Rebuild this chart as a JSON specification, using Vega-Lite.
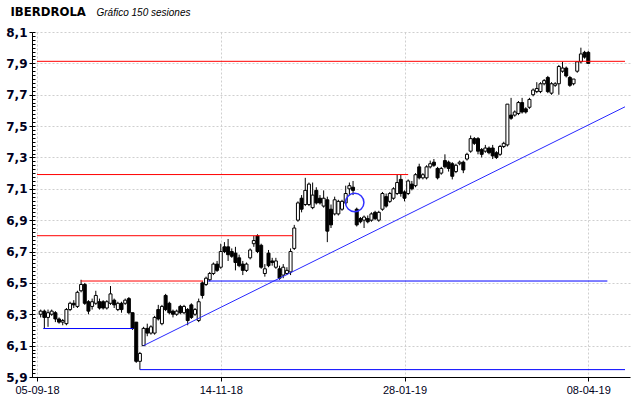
{
  "$schema": "https://vega.github.io/schema/vega-lite/v6.json",
  "width": 598,
  "height": 345,
  "autosize": {"type": "none"},
  "padding": {"left": 32, "top": 32, "right": 10, "bottom": 21},
  "background": "white",
  "config": {"view": {"stroke": null}},
  "resolve": {"axis": {"y": "independent"}},
  "datasets": {
    "candles": [
      {"i":1,"o":6.30,"h":6.33,"l":6.28,"c":6.32},
      {"i":2,"o":6.32,"h":6.33,"l":6.21,"c":6.28},
      {"i":3,"o":6.28,"h":6.33,"l":6.22,"c":6.31},
      {"i":4,"o":6.30,"h":6.33,"l":6.29,"c":6.32},
      {"i":5,"o":6.31,"h":6.32,"l":6.25,"c":6.27},
      {"i":6,"o":6.27,"h":6.28,"l":6.24,"c":6.25},
      {"i":7,"o":6.25,"h":6.27,"l":6.23,"c":6.26},
      {"i":8,"o":6.24,"h":6.34,"l":6.23,"c":6.33},
      {"i":9,"o":6.33,"h":6.38,"l":6.32,"c":6.37},
      {"i":10,"o":6.37,"h":6.39,"l":6.34,"c":6.36},
      {"i":11,"o":6.35,"h":6.45,"l":6.34,"c":6.44},
      {"i":12,"o":6.45,"h":6.52,"l":6.44,"c":6.49},
      {"i":13,"o":6.49,"h":6.50,"l":6.36,"c":6.37},
      {"i":14,"o":6.38,"h":6.39,"l":6.30,"c":6.32},
      {"i":15,"o":6.35,"h":6.40,"l":6.33,"c":6.38},
      {"i":16,"o":6.37,"h":6.45,"l":6.36,"c":6.42},
      {"i":17,"o":6.38,"h":6.40,"l":6.33,"c":6.34},
      {"i":18,"o":6.38,"h":6.39,"l":6.33,"c":6.34},
      {"i":19,"o":6.34,"h":6.39,"l":6.33,"c":6.38},
      {"i":20,"o":6.37,"h":6.48,"l":6.36,"c":6.43},
      {"i":21,"o":6.39,"h":6.40,"l":6.34,"c":6.36},
      {"i":22,"o":6.33,"h":6.38,"l":6.32,"c":6.37},
      {"i":23,"o":6.37,"h":6.38,"l":6.31,"c":6.33},
      {"i":24,"o":6.37,"h":6.40,"l":6.36,"c":6.39},
      {"i":25,"o":6.40,"h":6.41,"l":6.30,"c":6.31},
      {"i":26,"o":6.31,"h":6.31,"l":6.20,"c":6.21},
      {"i":27,"o":6.25,"h":6.25,"l":5.99,"c":6.00},
      {"i":28,"o":6.00,"h":6.06,"l":5.947,"c":6.05},
      {"i":29,"o":6.10,"h":6.22,"l":6.10,"c":6.21},
      {"i":30,"o":6.21,"h":6.24,"l":6.16,"c":6.18},
      {"i":31,"o":6.18,"h":6.23,"l":6.17,"c":6.22},
      {"i":32,"o":6.18,"h":6.29,"l":6.17,"c":6.28},
      {"i":33,"o":6.33,"h":6.36,"l":6.26,"c":6.27},
      {"i":34,"o":6.24,"h":6.36,"l":6.23,"c":6.35},
      {"i":35,"o":6.42,"h":6.43,"l":6.32,"c":6.33},
      {"i":36,"o":6.37,"h":6.38,"l":6.30,"c":6.31},
      {"i":37,"o":6.32,"h":6.33,"l":6.28,"c":6.30},
      {"i":38,"o":6.30,"h":6.33,"l":6.29,"c":6.32},
      {"i":39,"o":6.35,"h":6.36,"l":6.30,"c":6.31},
      {"i":40,"o":6.31,"h":6.36,"l":6.30,"c":6.35},
      {"i":41,"o":6.33,"h":6.34,"l":6.23,"c":6.26},
      {"i":42,"o":6.36,"h":6.37,"l":6.27,"c":6.28},
      {"i":43,"o":6.30,"h":6.34,"l":6.29,"c":6.33},
      {"i":44,"o":6.26,"h":6.40,"l":6.25,"c":6.38},
      {"i":45,"o":6.50,"h":6.51,"l":6.40,"c":6.42},
      {"i":46,"o":6.49,"h":6.54,"l":6.48,"c":6.53},
      {"i":47,"o":6.52,"h":6.57,"l":6.51,"c":6.56},
      {"i":48,"o":6.56,"h":6.63,"l":6.55,"c":6.62},
      {"i":49,"o":6.62,"h":6.64,"l":6.57,"c":6.58},
      {"i":50,"o":6.60,"h":6.75,"l":6.59,"c":6.70},
      {"i":51,"o":6.73,"h":6.76,"l":6.69,"c":6.70},
      {"i":52,"o":6.73,"h":6.78,"l":6.64,"c":6.68},
      {"i":53,"o":6.70,"h":6.72,"l":6.66,"c":6.67},
      {"i":54,"o":6.69,"h":6.73,"l":6.58,"c":6.63},
      {"i":55,"o":6.66,"h":6.68,"l":6.60,"c":6.61},
      {"i":56,"o":6.62,"h":6.64,"l":6.55,"c":6.58},
      {"i":57,"o":6.58,"h":6.63,"l":6.57,"c":6.62},
      {"i":58,"o":6.66,"h":6.72,"l":6.65,"c":6.71},
      {"i":59,"o":6.75,"h":6.80,"l":6.73,"c":6.77},
      {"i":60,"o":6.80,"h":6.81,"l":6.69,"c":6.70},
      {"i":61,"o":6.74,"h":6.75,"l":6.59,"c":6.60},
      {"i":62,"o":6.56,"h":6.62,"l":6.54,"c":6.59},
      {"i":63,"o":6.69,"h":6.71,"l":6.60,"c":6.61},
      {"i":64,"o":6.64,"h":6.66,"l":6.61,"c":6.63},
      {"i":65,"o":6.60,"h":6.66,"l":6.59,"c":6.64},
      {"i":66,"o":6.59,"h":6.61,"l":6.52,"c":6.53},
      {"i":67,"o":6.55,"h":6.62,"l":6.53,"c":6.60},
      {"i":68,"o":6.56,"h":6.60,"l":6.55,"c":6.58},
      {"i":69,"o":6.57,"h":6.72,"l":6.55,"c":6.70},
      {"i":70,"o":6.72,"h":6.87,"l":6.71,"c":6.85},
      {"i":71,"o":6.90,"h":7.02,"l":6.89,"c":7.01},
      {"i":72,"o":7.04,"h":7.06,"l":6.95,"c":6.97},
      {"i":73,"o":7.00,"h":7.17,"l":6.99,"c":7.09},
      {"i":74,"o":7.00,"h":7.14,"l":6.99,"c":7.13},
      {"i":75,"o":6.98,"h":7.14,"l":6.97,"c":7.06},
      {"i":76,"o":7.09,"h":7.11,"l":7.00,"c":7.01},
      {"i":77,"o":7.04,"h":7.06,"l":7.00,"c":7.01},
      {"i":78,"o":6.99,"h":7.09,"l":6.98,"c":7.04},
      {"i":79,"o":7.03,"h":7.05,"l":6.76,"c":6.83},
      {"i":80,"o":6.97,"h":7.00,"l":6.85,"c":6.87},
      {"i":81,"o":6.94,"h":7.05,"l":6.93,"c":7.03},
      {"i":82,"o":6.94,"h":7.03,"l":6.93,"c":7.02},
      {"i":83,"o":6.97,"h":7.03,"l":6.96,"c":7.02},
      {"i":84,"o":7.01,"h":7.12,"l":7.00,"c":7.07},
      {"i":85,"o":7.10,"h":7.14,"l":7.06,"c":7.12},
      {"i":86,"o":7.11,"h":7.15,"l":7.06,"c":7.09},
      {"i":87,"o":6.97,"h":6.98,"l":6.86,"c":6.87},
      {"i":88,"o":6.91,"h":6.92,"l":6.88,"c":6.89},
      {"i":89,"o":6.90,"h":6.93,"l":6.85,"c":6.92},
      {"i":90,"o":6.91,"h":6.93,"l":6.88,"c":6.89},
      {"i":91,"o":6.90,"h":6.95,"l":6.89,"c":6.94},
      {"i":92,"o":6.95,"h":6.96,"l":6.90,"c":6.91},
      {"i":93,"o":6.90,"h":6.96,"l":6.89,"c":6.95},
      {"i":94,"o":6.97,"h":7.08,"l":6.96,"c":7.07},
      {"i":95,"o":7.05,"h":7.07,"l":6.98,"c":6.99},
      {"i":96,"o":7.02,"h":7.08,"l":7.01,"c":7.07},
      {"i":97,"o":7.04,"h":7.11,"l":7.03,"c":7.10},
      {"i":98,"o":7.07,"h":7.19,"l":7.06,"c":7.14},
      {"i":99,"o":7.16,"h":7.19,"l":7.05,"c":7.07},
      {"i":100,"o":7.08,"h":7.09,"l":7.02,"c":7.04},
      {"i":101,"o":7.07,"h":7.16,"l":7.06,"c":7.15},
      {"i":102,"o":7.13,"h":7.15,"l":7.09,"c":7.10},
      {"i":103,"o":7.12,"h":7.20,"l":7.11,"c":7.19},
      {"i":104,"o":7.24,"h":7.26,"l":7.16,"c":7.17},
      {"i":105,"o":7.17,"h":7.20,"l":7.16,"c":7.19},
      {"i":106,"o":7.17,"h":7.25,"l":7.16,"c":7.24},
      {"i":107,"o":7.24,"h":7.28,"l":7.23,"c":7.26},
      {"i":108,"o":7.27,"h":7.29,"l":7.24,"c":7.25},
      {"i":109,"o":7.23,"h":7.24,"l":7.16,"c":7.17},
      {"i":110,"o":7.20,"h":7.24,"l":7.19,"c":7.23},
      {"i":111,"o":7.28,"h":7.32,"l":7.23,"c":7.24},
      {"i":112,"o":7.27,"h":7.28,"l":7.21,"c":7.23},
      {"i":113,"o":7.26,"h":7.27,"l":7.16,"c":7.18},
      {"i":114,"o":7.21,"h":7.26,"l":7.20,"c":7.25},
      {"i":115,"o":7.26,"h":7.28,"l":7.25,"c":7.27},
      {"i":116,"o":7.27,"h":7.28,"l":7.20,"c":7.22},
      {"i":117,"o":7.29,"h":7.33,"l":7.28,"c":7.32},
      {"i":118,"o":7.34,"h":7.44,"l":7.33,"c":7.42},
      {"i":119,"o":7.42,"h":7.43,"l":7.38,"c":7.39},
      {"i":120,"o":7.42,"h":7.43,"l":7.32,"c":7.34},
      {"i":121,"o":7.35,"h":7.36,"l":7.30,"c":7.32},
      {"i":122,"o":7.34,"h":7.38,"l":7.33,"c":7.36},
      {"i":123,"o":7.36,"h":7.37,"l":7.32,"c":7.33},
      {"i":124,"o":7.36,"h":7.38,"l":7.29,"c":7.31},
      {"i":125,"o":7.33,"h":7.34,"l":7.29,"c":7.30},
      {"i":126,"o":7.32,"h":7.38,"l":7.31,"c":7.37},
      {"i":127,"o":7.37,"h":7.40,"l":7.36,"c":7.39},
      {"i":128,"o":7.38,"h":7.64,"l":7.37,"c":7.64},
      {"i":129,"o":7.57,"h":7.68,"l":7.54,"c":7.55},
      {"i":130,"o":7.57,"h":7.60,"l":7.56,"c":7.59},
      {"i":131,"o":7.58,"h":7.66,"l":7.57,"c":7.65},
      {"i":132,"o":7.65,"h":7.68,"l":7.58,"c":7.59},
      {"i":133,"o":7.61,"h":7.62,"l":7.58,"c":7.59},
      {"i":134,"o":7.62,"h":7.68,"l":7.61,"c":7.67},
      {"i":135,"o":7.70,"h":7.74,"l":7.69,"c":7.73},
      {"i":136,"o":7.72,"h":7.78,"l":7.71,"c":7.74},
      {"i":137,"o":7.72,"h":7.78,"l":7.71,"c":7.77},
      {"i":138,"o":7.77,"h":7.80,"l":7.76,"c":7.79},
      {"i":139,"o":7.81,"h":7.82,"l":7.71,"c":7.72},
      {"i":140,"o":7.71,"h":7.78,"l":7.70,"c":7.77},
      {"i":141,"o":7.76,"h":7.78,"l":7.75,"c":7.77},
      {"i":142,"o":7.77,"h":7.89,"l":7.70,"c":7.88},
      {"i":143,"o":7.85,"h":7.91,"l":7.84,"c":7.87},
      {"i":144,"o":7.87,"h":7.88,"l":7.81,"c":7.82},
      {"i":145,"o":7.81,"h":7.82,"l":7.75,"c":7.76},
      {"i":146,"o":7.77,"h":7.80,"l":7.76,"c":7.80},
      {"i":147,"o":7.85,"h":7.91,"l":7.84,"c":7.91},
      {"i":148,"o":7.91,"h":8.00,"l":7.90,"c":7.96},
      {"i":149,"o":7.97,"h":7.98,"l":7.93,"c":7.94},
      {"i":150,"o":7.97,"h":7.98,"l":7.90,"c":7.90}
    ],
    "lines": [
      {"kind":"resistencia","x":0,"x2":160,"y":7.913,"y2":7.913},
      {"kind":"resistencia","x":0,"x2":101,"y":7.191,"y2":7.191},
      {"kind":"resistencia","x":0,"x2":69.6,"y":6.801,"y2":6.801},
      {"kind":"resistencia","x":11.9,"x2":45.2,"y":6.512,"y2":6.512},
      {"kind":"soporte","x":46.5,"x2":155.2,"y":6.512,"y2":6.512},
      {"kind":"soporte","x":1.7,"x2":26.2,"y":6.209,"y2":6.209},
      {"kind":"soporte","x":28,"x2":160,"y":5.947,"y2":5.947},
      {"kind":"tendencia","x":29,"x2":160,"y":6.10,"y2":7.623}
    ],
    "marker": [
      {"i":86.45,"p":7.013}
    ]
  },
  "layer": [
    {
      "data": {"name": "candles"},
      "mark": {"type": "rule", "color": "#000000", "strokeWidth": 1},
      "encoding": {
        "x": {
          "field": "i", "type": "quantitative",
          "scale": {"domain": [0, 160], "nice": false, "zero": false},
          "axis": {
            "values": [0, 50, 100, 150],
            "labelExpr": "datum.value == 0 ? '05-09-18' : datum.value == 50 ? '14-11-18' : datum.value == 100 ? '28-01-19' : '08-04-19'",
            "grid": true,
            "gridColor": "#cfcfcf",
            "gridDash": [2, 2],
            "gridWidth": 1,
            "domainColor": "#000000",
            "domainWidth": 1,
            "tickColor": "#000000",
            "tickSize": 4,
            "labelFont": "Liberation Sans",
            "labelFontSize": 11,
            "labelColor": "#000020",
            "labelPadding": 3,
            "labelFlush": false,
            "labelOverlap": false,
            "title": "Gráfico 150 sesiones",
            "titleAngle": 0,
            "titleAlign": "left",
            "titleBaseline": "alphabetic",
            "titleX": 64,
            "titleY": -362,
            "titleFont": "Liberation Sans",
            "titleFontSize": 10,
            "titleFontStyle": "italic",
            "titleFontWeight": "normal",
            "titleColor": "#000000"
          }
        },
        "y": {
          "field": "l", "type": "quantitative",
          "scale": {"domain": [5.9, 8.1], "nice": false, "zero": false},
          "axis": {
            "orient": "left",
            "values": [5.9, 6.1, 6.3, 6.5, 6.7, 6.9, 7.1, 7.3, 7.5, 7.7, 7.9, 8.1],
            "labelExpr": "replace(format(datum.value, '.1f'), '.', ',')",
            "grid": true,
            "gridColor": "#cfcfcf",
            "gridDash": [2, 2],
            "tickSize": 3,
            "tickColor": "#000000",
            "domainColor": "#000000",
            "labelFont": "DejaVu Sans",
            "labelFontSize": 12,
            "labelFontWeight": "bold",
            "labelColor": "#000020",
            "labelPadding": 2,
            "labelOverlap": false,
            "labelFlush": false,
            "title": "IBERDROLA",
            "titleAngle": 0,
            "titleAlign": "left",
            "titleBaseline": "alphabetic",
            "titleX": -22,
            "titleY": -17,
            "titleFont": "DejaVu Sans",
            "titleFontSize": 11.7,
            "titleFontWeight": "bold",
            "titleColor": "#000000"
          }
        },
        "y2": {"field": "h"}
      }
    },
    {
      "data": {"name": "candles"},
      "mark": {"type": "bar", "size": 3, "stroke": "#000000", "strokeWidth": 1},
      "encoding": {
        "x": {"field": "i", "type": "quantitative"},
        "y": {
          "field": "o", "type": "quantitative",
          "axis": {
            "orient": "left",
            "values": [5.9,5.925,5.95,5.975,6.0,6.025,6.05,6.075,6.1,6.125,6.15,6.175,6.2,6.225,6.25,6.275,6.3,6.325,6.35,6.375,6.4,6.425,6.45,6.475,6.5,6.525,6.55,6.575,6.6,6.625,6.65,6.675,6.7,6.725,6.75,6.775,6.8,6.825,6.85,6.875,6.9,6.925,6.95,6.975,7.0,7.025,7.05,7.075,7.1,7.125,7.15,7.175,7.2,7.225,7.25,7.275,7.3,7.325,7.35,7.375,7.4,7.425,7.45,7.475,7.5,7.525,7.55,7.575,7.6,7.625,7.65,7.675,7.7,7.725,7.75,7.775,7.8,7.825,7.85,7.875,7.9,7.925,7.95,7.975,8.0,8.025,8.05,8.075,8.1],
            "labels": false,
            "grid": false,
            "domain": false,
            "ticks": true,
            "tickSize": -3,
            "tickColor": "#000000",
            "title": null
          }
        },
        "y2": {"field": "c"},
        "fill": {"condition": {"test": "datum.c >= datum.o", "value": "#ffffff"}, "value": "#000000"}
      }
    },
    {
      "data": {"name": "lines"},
      "mark": {"type": "rule"},
      "encoding": {
        "x": {"field": "x", "type": "quantitative"},
        "x2": {"field": "x2"},
        "y": {"field": "y", "type": "quantitative", "axis": null},
        "y2": {"field": "y2"},
        "color": {"field": "kind", "type": "nominal", "legend": null,
          "scale": {"domain": ["resistencia", "soporte", "tendencia"], "range": ["#ff0000", "#0000ff", "#2828ff"]}},
        "strokeWidth": {"field": "kind", "type": "nominal", "legend": null,
          "scale": {"domain": ["resistencia", "soporte", "tendencia"], "range": [1, 1, 1.4]}}
      }
    },
    {
      "data": {"name": "marker"},
      "mark": {"type": "point", "shape": "circle", "size": 340, "filled": false, "stroke": "#3030ff", "strokeWidth": 1.5, "opacity": 1},
      "encoding": {
        "x": {"field": "i", "type": "quantitative"},
        "y": {"field": "p", "type": "quantitative", "axis": null}
      }
    }
  ]
}
